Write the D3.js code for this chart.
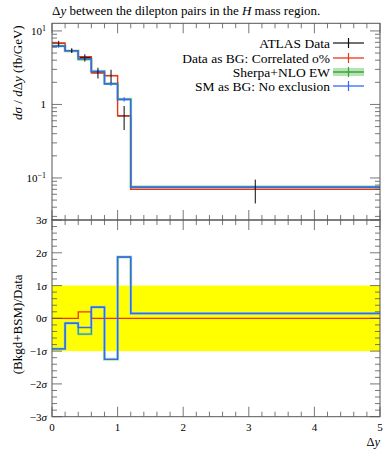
<!DOCTYPE html>
<html><head><meta charset="utf-8">
<script src="https://cdn.jsdelivr.net/npm/d3@7"></script>
<style>body{margin:0;background:#fff}svg{display:block}text{font-family:"Liberation Serif","DejaVu Serif",serif}</style>
</head><body><svg id="c" width="392" height="450"></svg>
<script>
const binEdges = [0, 0.2, 0.4, 0.6, 0.8, 1.0, 1.2, 5.0];
const dataVals = [6.8, 5.4, 4.33, 2.7, 2.47, 0.70, 0.070];
const dataErr  = [0.55, 0.4, 0.5, 0.45, 0.5, 0.25, 0.025];
const redVals   = [6.8, 5.4, 4.47, 2.7, 2.47, 0.70, 0.070];
const greenVals = [6.25, 5.35, 4.1, 2.82, 1.92, 1.18, 0.0757];
const blueVals  = [6.2, 5.35, 4.2, 2.8, 1.9, 1.17, 0.0748];
const blueErr   = [0.1, 0.1, 0.08, 0.06, 0.05, 0.04, 0.001];
const redRatio   = [0, 0, 0.2, 0, 0, 0, 0];
const greenRatio = [-0.93, -0.15, -0.48, 0.34, -1.25, 1.87, 0.15];
const blueRatio  = [-0.93, -0.15, -0.28, 0.34, -1.25, 1.87, 0.15];
const xTicks = [0, 1, 2, 3, 4, 5];
const sigmaTicks = [3, 2, 1, 0, -1, -2, -3];
const legendLabels = ["ATLAS Data", "Data as BG: Correlated o%", "Sherpa+NLO EW", "SM as BG: No exclusion"];

const C = {red:"#EE3311", green:"#3BA33B", greenBand:"#B5E3B5", blue:"#3366FF", black:"#111", frame:"#555"};
const L=52, R=380, T1=23.3, B1=220, T2=220, B2=416.7;
const svg = d3.select("#c");
const x = d3.scaleLinear().domain([0,5]).range([L,R]);
const y1 = d3.scaleLog().domain([0.0268, 12.7]).range([B1,T1]);
const y2 = d3.scaleLinear().domain([-3,3]).range([B2,T2]);

svg.append("rect").attr("x",x(0)).attr("width",x(5)-x(0)).attr("y",y2(1)).attr("height",y2(-1)-y2(1)).attr("fill","#FFFF00");

function stepPath(vals, ys){
  let d="";
  vals.forEach((v,i)=>{
    const x0=x(binEdges[i]), x1=x(binEdges[i+1]), yy=ys(v);
    d += (i===0?`M${x0},${yy}`:`L${x0},${yy}`) + `L${x1},${yy}`;
  });
  return d;
}
const gTop = svg.append("g");
// data first
dataVals.forEach((v,i)=>{
  const xc=x((binEdges[i]+binEdges[i+1])/2);
  gTop.append("line").attr("x1",x(binEdges[i])).attr("x2",x(binEdges[i+1])).attr("y1",y1(v)).attr("y2",y1(v)).attr("stroke",C.black).attr("stroke-width",1.3);
});
gTop.append("path").attr("d",stepPath(greenVals,y1)).attr("fill","none").attr("stroke",C.greenBand).attr("stroke-width",3);
gTop.append("path").attr("d",stepPath(redVals,y1)).attr("fill","none").attr("stroke",C.red).attr("stroke-width",1.4);
gTop.append("path").attr("d",stepPath(greenVals,y1)).attr("fill","none").attr("stroke",C.green).attr("stroke-width",1.3);
gTop.append("path").attr("d",stepPath(blueVals,y1)).attr("fill","none").attr("stroke",C.blue).attr("stroke-width",1.4);
blueVals.forEach((v,i)=>{
  const xc=x((binEdges[i]+binEdges[i+1])/2);
  gTop.append("line").attr("x1",xc).attr("x2",xc).attr("y1",y1(v+blueErr[i])-1).attr("y2",y1(Math.max(v-blueErr[i],1e-3))+1).attr("stroke",C.blue).attr("stroke-width",1.2);
});
dataVals.forEach((v,i)=>{
  const xc=x((binEdges[i]+binEdges[i+1])/2);
  gTop.append("line").attr("x1",xc).attr("x2",xc).attr("y1",y1(v+dataErr[i])).attr("y2",y1(v-dataErr[i])).attr("stroke",C.black).attr("stroke-width",1.3).attr("opacity",0.8);
});
const gBot = svg.append("g");
gBot.append("path").attr("d",stepPath(greenRatio,y2)).attr("fill","none").attr("stroke",C.greenBand).attr("stroke-width",3);
gBot.append("path").attr("d",stepPath(redRatio,y2)).attr("fill","none").attr("stroke",C.red).attr("stroke-width",1.3);
gBot.append("path").attr("d",stepPath(greenRatio,y2)).attr("fill","none").attr("stroke",C.green).attr("stroke-width",1.3);
gBot.append("path").attr("d",stepPath(blueRatio,y2)).attr("fill","none").attr("stroke",C.blue).attr("stroke-width",1.4);

[[T1,B1],[T2,B2]].forEach(([t,b])=>{
  svg.append("rect").attr("x",L).attr("y",t).attr("width",R-L).attr("height",b-t).attr("fill","none").attr("stroke",C.frame).attr("stroke-width",1);
});
const xMinor = d3.range(0,5.0001,0.2);
function xTickSet(yEdge, dir){
  xMinor.forEach(v=>{
    const major = Math.abs(v-Math.round(v))<1e-6;
    const len = major?10:5;
    svg.append("line").attr("x1",x(v)).attr("x2",x(v)).attr("y1",yEdge).attr("y2",yEdge+dir*len).attr("stroke",C.frame).attr("stroke-width",0.8);
  });
}
xTickSet(T1,1); xTickSet(B1,-1); xTickSet(T2,1); xTickSet(B2,-1);
const logTicks=[];
for(let e=-2;e<=1;e++) for(let m=1;m<=9;m++){ const v=m*Math.pow(10,e); if(v>=0.0268&&v<=12.7) logTicks.push({v,major:m===1}); }
logTicks.forEach(t=>{
  const yy=y1(t.v), len=t.major?10:5;
  svg.append("line").attr("x1",L).attr("x2",L+len).attr("y1",yy).attr("y2",yy).attr("stroke",C.frame).attr("stroke-width",0.8);
  svg.append("line").attr("x1",R).attr("x2",R-len).attr("y1",yy).attr("y2",yy).attr("stroke",C.frame).attr("stroke-width",0.8);
});
d3.range(-3,3.0001,0.2).forEach(v=>{
  const major=Math.abs(v-Math.round(v))<1e-6, len=major?10:5, yy=y2(v);
  svg.append("line").attr("x1",L).attr("x2",L+len).attr("y1",yy).attr("y2",yy).attr("stroke",C.frame).attr("stroke-width",0.8);
  svg.append("line").attr("x1",R).attr("x2",R-len).attr("y1",yy).attr("y2",yy).attr("stroke",C.frame).attr("stroke-width",0.8);
});
const ylab = [{v:10,b:"10",s:"1"},{v:1,b:"1",s:""},{v:0.1,b:"10",s:"\u22121"}];
ylab.forEach(l=>{
  const t=svg.append("text").attr("x",46).attr("y",y1(l.v)+4).attr("text-anchor","end").attr("font-size",11);
  t.append("tspan").text(l.b);
  if(l.s) t.append("tspan").attr("dy",-4).attr("font-size",8).text(l.s);
});
sigmaTicks.forEach(v=>{
  const t=svg.append("text").attr("x",47).attr("y",y2(v)+4).attr("text-anchor","end").attr("font-size",11);
  t.append("tspan").text(v<0?"\u2212"+(-v):String(v));
  t.append("tspan").attr("font-style","italic").text("\u03C3");
});
xTicks.forEach(v=>{
  svg.append("text").attr("x",x(v)).attr("y",431).attr("text-anchor","middle").attr("font-size",11).text(v);
});
const xl=svg.append("text").attr("x",R).attr("y",446).attr("text-anchor","end").attr("font-size",12.5);
xl.append("tspan").text("\u0394");xl.append("tspan").attr("font-style","italic").text("y");
const tt=svg.append("text").attr("x",L).attr("y",15).attr("font-size",13);
tt.append("tspan").text("\u0394");tt.append("tspan").attr("font-style","italic").text("y");
tt.append("tspan").text(" between the dilepton pairs in the ");
tt.append("tspan").attr("font-style","italic").text("H");
tt.append("tspan").text(" mass region.");
const yt=svg.append("text").attr("transform",`translate(22,${T1+2}) rotate(-90)`).attr("text-anchor","end").attr("font-size",13);
yt.append("tspan").attr("font-style","italic").text("d\u03C3");
yt.append("tspan").text(" / ");
yt.append("tspan").attr("font-style","italic").text("d");
yt.append("tspan").text("\u0394");
yt.append("tspan").attr("font-style","italic").text("y");
yt.append("tspan").text(" (fb/GeV)");
svg.append("text").attr("transform",`translate(22,${(T2+B2)/2+6}) rotate(-90)`).attr("text-anchor","middle").attr("font-size",13).text("(Bkgd+BSM)/Data");

const legY=[43,58,72,86], tx=330, s0=333, s1=364, sc=(s0+s1)/2;
legendLabels.forEach((lab,i)=>{
  svg.append("text").attr("x",tx).attr("y",legY[i]+4.5).attr("text-anchor","end").attr("font-size",13.5).text(lab);
});
svg.append("line").attr("x1",s0).attr("x2",s1).attr("y1",legY[0]).attr("y2",legY[0]).attr("stroke",C.black).attr("stroke-width",1.2);
svg.append("line").attr("x1",sc).attr("x2",sc).attr("y1",legY[0]-5).attr("y2",legY[0]+5).attr("stroke",C.black).attr("stroke-width",1.2);
svg.append("line").attr("x1",s0).attr("x2",s1).attr("y1",legY[1]).attr("y2",legY[1]).attr("stroke",C.red).attr("stroke-width",1.3);
svg.append("line").attr("x1",sc).attr("x2",sc).attr("y1",legY[1]-5).attr("y2",legY[1]+5).attr("stroke",C.red).attr("stroke-width",1.2);
svg.append("rect").attr("x",s0).attr("y",legY[2]-4).attr("width",s1-s0).attr("height",8).attr("fill",C.greenBand);
svg.append("line").attr("x1",s0).attr("x2",s1).attr("y1",legY[2]).attr("y2",legY[2]).attr("stroke",C.green).attr("stroke-width",1.5);
svg.append("line").attr("x1",sc).attr("x2",sc).attr("y1",legY[2]-5).attr("y2",legY[2]+5).attr("stroke",C.green).attr("stroke-width",1.2);
svg.append("line").attr("x1",s0).attr("x2",s1).attr("y1",legY[3]).attr("y2",legY[3]).attr("stroke",C.blue).attr("stroke-width",1.3);
svg.append("line").attr("x1",sc).attr("x2",sc).attr("y1",legY[3]-5).attr("y2",legY[3]+5).attr("stroke",C.blue).attr("stroke-width",1.2);
</script></body></html>
